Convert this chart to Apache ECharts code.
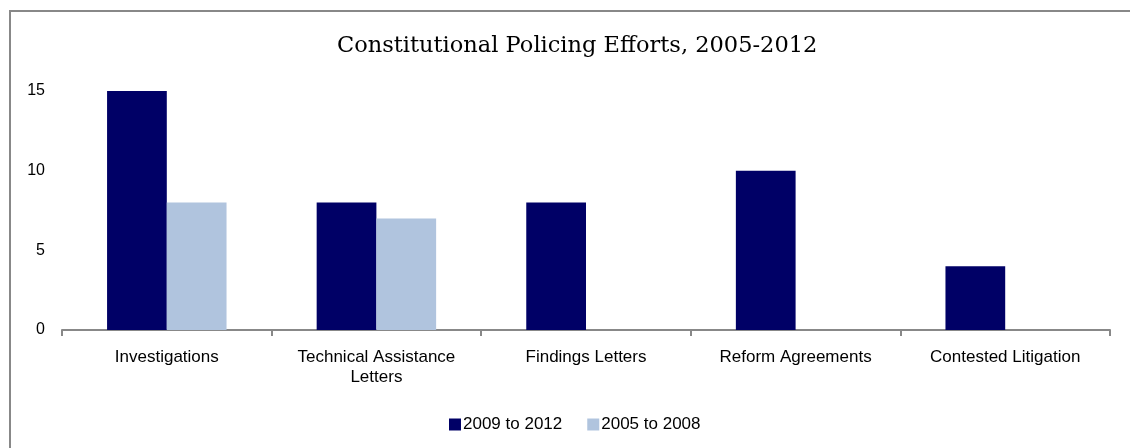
<!DOCTYPE html>
<html>
<head>
<meta charset="utf-8">
<script src="https://cdn.jsdelivr.net/npm/echarts@6/dist/echarts.min.js"></script>
<style>
  html, body { margin: 0; padding: 0; background: #fff; }
  #chart { width: 1130px; height: 448px; }
</style>
</head>
<body>
<div id="chart"></div>
<script>
var categories = ['Investigations', 'Technical Assistance\nLetters', 'Findings Letters', 'Reform Agreements', 'Contested Litigation'];
var recent = [15, 8, 8, 10, 4];       // 2009 to 2012
var earlier = [8, 7, 0, 0, 0];        // 2005 to 2008
var yTicks = [0, 5, 10, 15];

var dom = document.getElementById('chart');
var myChart = echarts.init(dom, null, { renderer: 'canvas' });

var option = {
  animation: false,
  title: {
    text: 'Constitutional Policing Efforts, 2005-2012',
    left: 337,
    top: 35,
    padding: 0,
    textStyle: {
      fontFamily: 'DejaVu Serif',
      fontWeight: 'normal',
      fontSize: 22.5,
      color: '#000'
    }
  },
  graphic: [{
    type: 'rect',
    shape: { x: 10, y: 11, width: 1200, height: 500 },
    style: { fill: 'none', stroke: '#888', lineWidth: 2 },
    silent: true
  }],
  legend: {
    left: 449,
    top: 416,
    padding: 0,
    itemWidth: 12,
    itemHeight: 12,
    itemGap: 25,
    icon: 'rect',
    textStyle: { fontFamily: 'Liberation Sans', fontSize: 17, color: '#000', padding: [0, 0, 0, -3] },
    data: ['2009 to 2012', '2005 to 2008']
  },
  grid: { left: 62, right: 20, top: 91, bottom: 118 },
  xAxis: {
    type: 'category',
    data: categories,
    axisLine: { lineStyle: { color: '#888', width: 2 } },
    axisTick: { show: true, length: 6, lineStyle: { color: '#888', width: 2 } },
    axisLabel: {
      fontFamily: 'Liberation Sans',
      fontSize: 17,
      color: '#000',
      margin: 17,
      lineHeight: 20
    }
  },
  yAxis: {
    type: 'value',
    min: yTicks[0],
    max: yTicks[yTicks.length - 1],
    interval: 5,
    splitLine: { show: false },
    axisLine: { show: false },
    axisTick: { show: false },
    axisLabel: {
      fontFamily: 'Liberation Sans',
      fontSize: 16,
      color: '#000',
      margin: 17
    }
  },
  series: [
    {
      name: '2009 to 2012',
      type: 'bar',
      data: recent,
      barWidth: '28.5%',
      barGap: '0%',
      itemStyle: { color: '#000066' }
    },
    {
      name: '2005 to 2008',
      type: 'bar',
      data: earlier,
      barWidth: '28.5%',
      itemStyle: { color: '#b0c4de' }
    }
  ]
};

myChart.setOption(option);
window.addEventListener('resize', myChart.resize);
</script>
</body>
</html>
